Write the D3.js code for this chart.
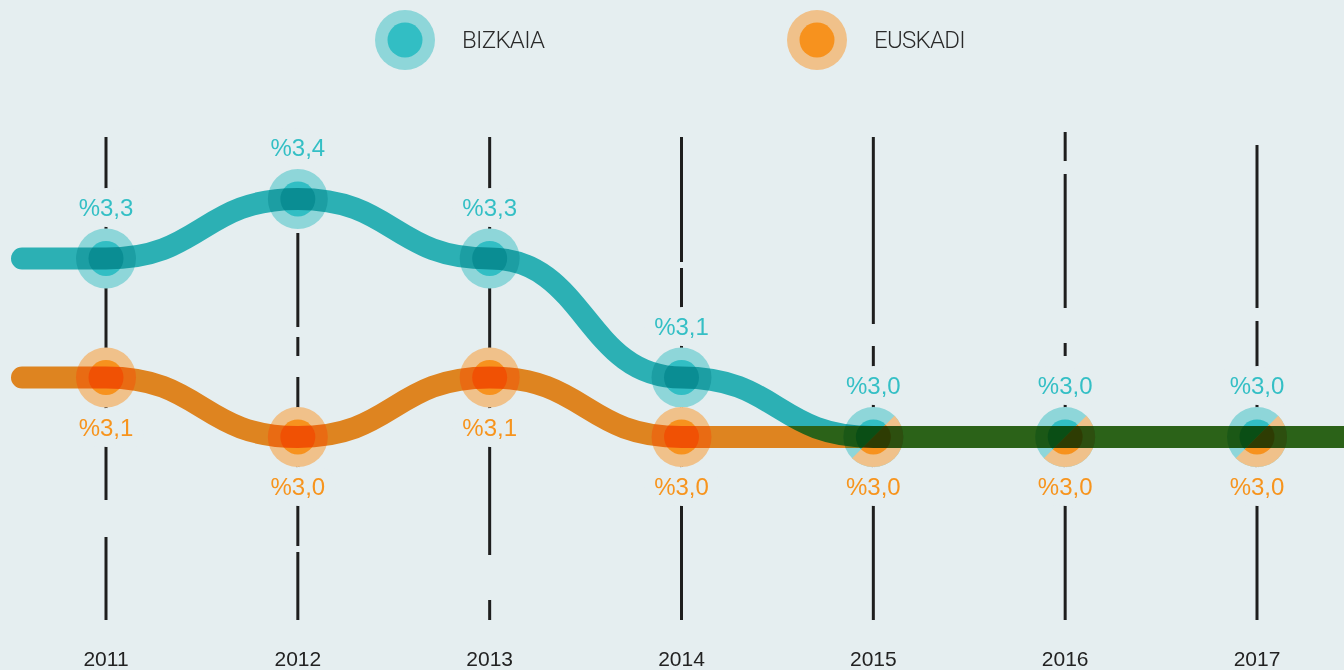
<!DOCTYPE html>
<html>
<head>
<meta charset="utf-8">
<script src="https://cdn.jsdelivr.net/npm/d3@7"></script>
<style>
  html, body { margin: 0; padding: 0; background: #e5eef0; }
  svg { display: block; }
  .serie { mix-blend-mode: multiply; }
</style>
</head>
<body>
<div id="chart"></div>
<script>
// data
var years = ["2011", "2012", "2013", "2014", "2015", "2016", "2017"];
var bizkaia = [3.3, 3.4, 3.3, 3.1, 3.0, 3.0, 3.0];
var euskadi = [3.1, 3.0, 3.1, 3.0, 3.0, 3.0, 3.0];
var seriesNames = ["BIZKAIA", "EUSKADI"];

var width = 1344, height = 670;
var bg = "#e5eef0";
var tealLine = "#31bdc0", tealRing = "#8ed6d9", tealDot = "#32bec4", tealText = "#34bfc5";
var orangeLine = "#f88d22", orangeRing = "#f0c18a", orangeDot = "#f7921e", orangeText = "#f7941d";
var font = "'Liberation Sans', Arial, sans-serif";
var lightFont = "Roboto, 'Liberation Sans', sans-serif";

// hand drawn look of the year guides (style only)
var guideTop = [137, 233, 137, 137, 137, 132, 145];
var guideDash = ["363,37,83", "94,10,19,21,169,6,68", "418,45,20", "125,6,352",
                 "187,22,21,22,1000", "29,13,134,35,13,20,1000", "163,13,48,20,1000"];

var svg = d3.select("#chart").append("svg")
    .attr("width", width)
    .attr("height", height)

svg.append("rect").attr("width", width).attr("height", height).attr("fill", bg)

var x = d3.scalePoint().domain(years).range([106, 1257]);
var y = d3.scaleLinear().domain([3.0, 3.4]).range([437, 199]);

var fmt = function(v) { return "%" + d3.format(".1f")(v).replace(".", ","); };

// guides
svg.append("g").selectAll("line")
    .data(years)
    .enter().append("line")
      .attr("x1", d => x(d)).attr("x2", d => x(d))
      .attr("y1", (d, i) => guideTop[i]).attr("y2", 620)
      .attr("stroke", "#1e1e1e")
      .attr("stroke-width", 3)
      .attr("stroke-dasharray", (d, i) => guideDash[i])

// year labels
svg.append("g").selectAll("text")
    .data(years)
    .enter().append("text")
      .attr("x", d => x(d)).attr("y", 666)
      .attr("text-anchor", "middle")
      .attr("font-family", font)
      .attr("font-size", 21)
      .attr("fill", "#222")
      .text(d => d)

// value labels with a halo that cuts the guides
function valueLabels(vals, color, dy) {
  svg.append("g").selectAll("text")
      .data(vals)
      .enter().append("text")
        .attr("x", (d, i) => x(years[i]))
        .attr("y", d => y(d) + dy)
        .attr("text-anchor", "middle")
        .attr("font-family", font)
        .attr("font-size", 24)
        .attr("fill", color)
        .attr("stroke", bg)
        .attr("stroke-width", 22)
        .attr("stroke-linejoin", "round")
        .attr("paint-order", "stroke")
        .text(d => fmt(d))
}
valueLabels(bizkaia, tealText, -43);
valueLabels(euskadi, orangeText, 58);

// markers
function markers(vals, ring, dot, clipFn) {
  var g = svg.append("g").selectAll("g")
      .data(vals)
      .enter().append("g")
        .attr("transform", (d, i) => "translate(" + x(years[i]) + "," + y(d) + ")")
        .attr("clip-path", clipFn)
  g.append("circle").attr("r", 30).attr("fill", ring)
  g.append("circle").attr("r", 17.5).attr("fill", dot)
}

var defs = svg.append("defs");
defs.append("clipPath").attr("id", "halfClip")
  .append("path").attr("d", "M-31,31L31,-31L31,31Z")

markers(bizkaia, tealRing, tealDot, null);
markers(euskadi, orangeRing, orangeDot, (d, i) => d === bizkaia[i] ? "url(#halfClip)" : null);

// thick series lines
var line = d3.line().curve(d3.curveBumpX);
function serie(vals, color) {
  var pts = vals.map((d, i) => [x(years[i]), y(d)]);
  pts.unshift([22, y(vals[0])]);
  pts.push([width + 30, y(vals[vals.length - 1])]);
  svg.append("path")
      .attr("class", "serie")
      .attr("d", line(pts))
      .attr("fill", "none")
      .attr("stroke", color)
      .attr("stroke-width", 22)
      .attr("stroke-linecap", "round")
}
serie(euskadi, orangeLine);
serie(bizkaia, tealLine);

// legend
var legend = svg.append("g").selectAll("g")
    .data(seriesNames)
    .enter().append("g")
      .attr("transform", (d, i) => "translate(" + (405 + i * 412) + ",40)")
legend.append("circle").attr("r", 30).attr("fill", (d, i) => i ? orangeRing : tealRing)
legend.append("circle").attr("r", 17.5).attr("fill", (d, i) => i ? orangeDot : tealDot)
legend.append("text")
    .attr("x", 57).attr("y", 8)
    .attr("font-family", lightFont)
    .attr("font-weight", 300)
    .attr("font-size", 24)
    .attr("letter-spacing", -0.7)
    .attr("fill", "#2a2a2a")
    .text(d => d)
</script>
</body>
</html>
